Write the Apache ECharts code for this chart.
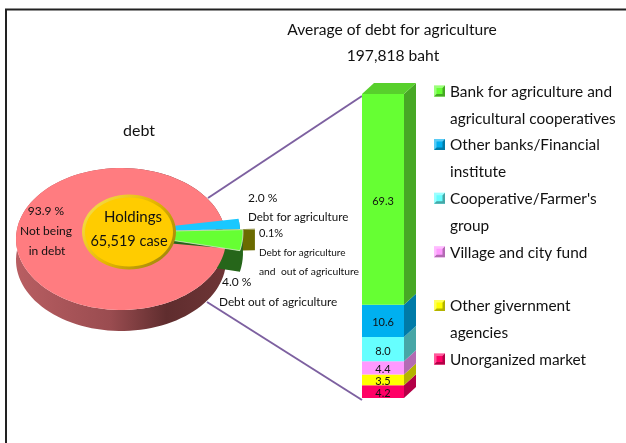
<!DOCTYPE html>
<html>
<head>
<meta charset="utf-8">
<style>html,body{margin:0;padding:0;background:#fff}#c{width:626px;height:443px}</style>
<script src="https://cdn.jsdelivr.net/npm/echarts@6/dist/echarts.min.js"></script>
</head>
<body>
<div id="c"></div>
<script>
// Pie: share of holdings
const pieNames = ['Not being in debt', 'Debt for agriculture', 'Debt for agriculture and out of agriculture', 'Debt out of agriculture'];
const pieValues = [93.9, 2.0, 0.1, 4.0];
// Stacked column: bottom to top
const barCategories = ['Sources'];
const barNames = ['Unorganized market', 'Other givernment agencies', 'Village and city fund', "Cooperative/Farmer's group", 'Other banks/Financial institute', 'Bank for agriculture and agricultural cooperatives'];
const barValues = [4.2, 3.5, 4.4, 8.0, 10.6, 69.3];
const barTotal = 100;
// Legend order, top to bottom, with its line breaks
const legendOrder = [5, 4, 3, 2, 1, 0];
const legendText = {
  'Bank for agriculture and agricultural cooperatives': 'Bank for agriculture and\nagricultural cooperatives',
  'Other banks/Financial institute': 'Other banks/Financial\ninstitute',
  "Cooperative/Farmer's group": "Cooperative/Farmer's\ngroup",
  'Village and city fund': 'Village and city fund\n ',
  'Other givernment agencies': 'Other givernment\nagencies',
  'Unorganized market': 'Unorganized market\n '
};

const FONT = 'Lato';
const barFront = ['#ff0066', '#ffff00', '#ff99ff', '#66ffff', '#00b0f0', '#66ff33'];
const barSide = ['#b30047', '#b3b300', '#b36bb3', '#47a6a6', '#007ba8', '#47a825'];
const barTop = '#58d02c';
const DX = 12, DY = -11;

// Pie geometry
const SQ = 0.676, DEPTH = 21;
const slices = [
  {c: [121, 239], r: 105, top: '#ff7c80', side: {type:'linear',x:0,y:0,x2:1,y2:0,colorStops:[{offset:0,color:'#b85e62'},{offset:0.45,color:'#9a4c50'},{offset:0.72,color:'#5f2d2e'},{offset:1,color:'#6e3536'}]}},
  {c: [118, 232], r: 122, top: '#19c8ff', side: '#0e7fa3'},
  {c: [118, 232], r: 137, top: '#6b6b00', side: '#6b6b00'},
  {c: [118, 232], r: 125, top: '#66ff33', side: '#26661a'}
];
// Angles, degrees, counter-clockwise from east
const wedgeStart = 9.2;
function sliceAngles(i) {
  if (i === 0) {
    const gap = (100 - pieValues[0]) * 3.6;
    return [14.5 - 360, 14.5 - gap];          // from, to
  }
  let a = wedgeStart;
  for (let k = 1; k < i; k++) a -= pieValues[k] * 3.6;
  return [a - pieValues[i] * 3.6, a];
}
function arcPts(i, off) {
  const s = slices[i], [a0, a1] = sliceAngles(i), pts = [];
  const n = Math.max(2, Math.ceil((a1 - a0) / 3));
  for (let k = 0; k <= n; k++) {
    const a = (a0 + (a1 - a0) * k / n) * Math.PI / 180;
    pts.push([s.c[0] + s.r * Math.cos(a), s.c[1] - s.r * SQ * Math.sin(a) + off]);
  }
  return pts;
}
function renderSide(params, api) {
  const i = api.value(0);
  const top = arcPts(i, 0), bot = arcPts(i, DEPTH).reverse();
  const s = slices[i];
  const apex = i === 0 ? [] : [[s.c[0], s.c[1] + DEPTH], [s.c[0], s.c[1]]];
  return {type: 'polygon', shape: {points: top.concat(bot, apex)}, style: {fill: s.side}};
}
function renderTop(params, api) {
  const i = api.value(0);
  const s = slices[i];
  const pts = arcPts(i, 0);
  return {type: 'polygon', shape: {points: [s.c].concat(pts)},
    style: {fill: s.top, stroke: i === 3 ? '#e8e8e8' : null, lineWidth: i === 3 ? 0.7 : 0}};
}
function renderBarSide(params, api) {
  const i = api.value(0);
  let base = 0;
  for (let k = 0; k < i; k++) base += barValues[k];
  const y0 = api.coord([0, base])[1], y1 = api.coord([0, base + barValues[i]])[1];
  const xr = api.coord([0, 0])[0] + api.size([1, 0])[0] / 2;
  const xl = xr - api.size([1, 0])[0];
  const kids = [{type: 'polygon', shape: {points: [[xr, y0], [xr + DX, y0 + DY], [xr + DX, y1 + DY], [xr, y1]]}, style: {fill: barSide[i]}}];
  if (i === barValues.length - 1) {
    kids.push({type: 'polygon', shape: {points: [[xl, y1], [xl + DX, y1 + DY], [xr + DX, y1 + DY], [xr, y1]]}, style: {fill: barTop}});
  }
  return {type: 'group', children: kids};
}

const text = (t, x, y, size, extra) => ({type: 'text', x, y, z: 20, style: Object.assign({text: t, font: size + 'px ' + FONT, fill: '#111', verticalAlign: 'middle', align: 'left'}, extra || {})});
const mid = {align: 'center'};

// Bevel on the legend keys: darker right and bottom edges, lighter top-left
const LEG_X = 434, LEG_Y = 85.5, LEG_STEP = 53.6, KEY = 11, BEVEL = 2.5;
const legendBevels = legendOrder.flatMap((idx, row) => {
  const x = LEG_X, y = LEG_Y + row * LEG_STEP;
  return [
    {type: 'polygon', z: 15, shape: {points: [[x + KEY, y], [x + KEY, y + KEY], [x, y + KEY], [x + BEVEL, y + KEY - BEVEL], [x + KEY - BEVEL, y + KEY - BEVEL], [x + KEY - BEVEL, y + BEVEL]]}, style: {fill: barSide[idx]}},
    {type: 'polygon', z: 15, shape: {points: [[x, y], [x + KEY, y], [x + KEY - BEVEL, y + BEVEL], [x + BEVEL, y + BEVEL], [x + BEVEL, y + KEY - BEVEL], [x, y + KEY]]}, style: {fill: 'rgba(255,255,255,0.35)'}}
  ];
});

const option = {
  animation: false,
  backgroundColor: '#fff',
  textStyle: {fontFamily: FONT},
  grid: {left: 362, top: 94, width: 42, height: 304},
  xAxis: {type: 'category', data: barCategories, show: false},
  yAxis: {type: 'value', min: 0, max: barTotal, show: false},
  legend: {
    left: 434, top: 78.5, padding: 0, orient: 'vertical', itemGap: 0, itemWidth: 11, itemHeight: 53.6, selectedMode: false,
    icon: 'path://M0 0L11 0M0 7H11V18H0ZM0 53.6L11 53.6',
    data: legendOrder.map(i => barNames[i]),
    formatter: n => legendText[n],
    textStyle: {fontSize: 15.4, lineHeight: 26.8, color: '#111', fontFamily: FONT}
  },
  series: barNames.map((name, i) => ({
    type: 'bar', name, stack: 'debt', barWidth: '100%', z: 5,
    data: [barValues[i]],
    itemStyle: {color: barFront[i]},
    label: {show: true, position: 'inside', offset: [0, 2], fontSize: 11, color: '#111', fontFamily: FONT, formatter: p => p.value.toFixed(1)}
  })).concat([
    {type: 'custom', name: 'column depth', renderItem: renderBarSide, z: 4, silent: true, data: barValues.map((v, i) => [i, v]), encode: {x: 0, y: 1}, tooltip: {show: false}},
    {type: 'custom', name: 'pie depth', coordinateSystem: 'none', renderItem: renderSide, z: 6, silent: true, data: pieValues.map((v, i) => [i, v])},
    {type: 'custom', name: 'pie faces', coordinateSystem: 'none', renderItem: renderTop, z: 7, silent: true, data: pieNames.map((n, i) => ({name: n, value: [i, pieValues[i]]}))}
  ]),
  graphic: [
    {type: 'polyline', z: 1, shape: {points: [[6, 443], [6, 9.5], [626, 9.5]]}, style: {stroke: '#222', lineWidth: 2, fill: null}},
    {type: 'line', z: 1, shape: {x1: 208, y1: 198, x2: 362, y2: 96}, style: {stroke: '#7d60a0', lineWidth: 2}},
    {type: 'line', z: 1, shape: {x1: 207, y1: 302, x2: 362, y2: 400}, style: {stroke: '#7d60a0', lineWidth: 2}},
    {type: 'ellipse', z: 12, shape: {cx: 129, cy: 232, rx: 47, ry: 37.5}, style: {fill: {type:'linear',x:0,y:0,x2:1,y2:1,colorStops:[{offset:0,color:'#f8e55a'},{offset:0.5,color:'#e6b800'},{offset:1,color:'#8f7a10'}]}}},
    {type: 'ellipse', z: 13, shape: {cx: 129, cy: 232, rx: 44, ry: 34.5}, style: {fill: '#ffcc00'}},
    text('Holdings', 133, 217, 15, mid),
    text('65,519 case', 129, 241, 14.5, mid),
    text('debt', 139, 131, 16, mid),
    text('Average of debt for agriculture', 392, 30, 15.6, mid),
    text('197,818 baht', 393, 56, 15.6, mid),
    text('93.9 %', 46, 211, 12, mid),
    text('Not being', 46, 231, 12, mid),
    text('in debt', 47, 251, 12, mid),
    text('2.0 %', 248, 198, 12),
    text('Debt for agriculture', 248, 217, 11.6),
    text('0.1%', 259, 233, 11),
    text('Debt for agriculture', 259, 253, 10),
    text('and  out of agriculture', 259, 272, 10.3),
    text('4.0 %', 222, 282, 12),
    text('Debt out of agriculture', 219, 302, 11.8)
  ].concat(legendBevels)
};
echarts.init(document.getElementById('c'), null, {renderer: 'canvas'}).setOption(option);
</script>
</body>
</html>
